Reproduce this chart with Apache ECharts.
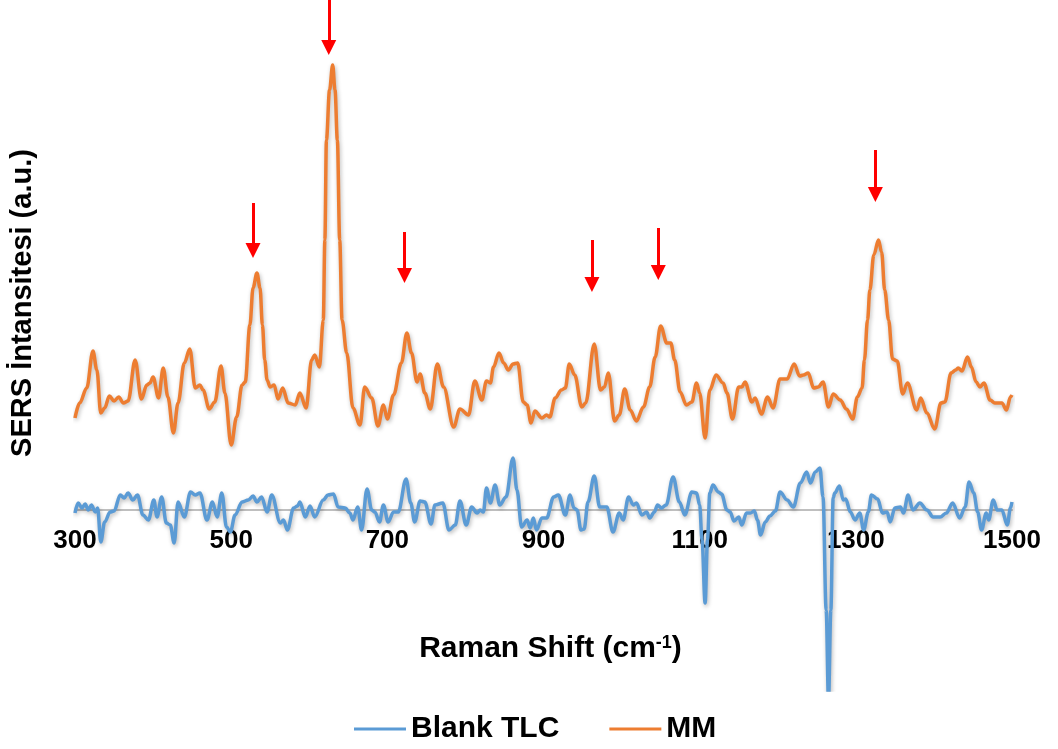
<!DOCTYPE html>
<html>
<head>
<meta charset="utf-8">
<title>SERS</title>
<script src="https://cdn.jsdelivr.net/npm/echarts@6/dist/echarts.min.js"></script>
<style>
    html, body { margin: 0; padding: 0; background: #fff; }
    #chart { width: 1058px; height: 749px; }
</style>
</head>
<body>
<div id="chart"></div>
<script>
var FONT = 'Arial, "Liberation Sans", sans-serif';

// x axis ticks
var xTicks = [300, 500, 700, 900, 1100, 1300, 1500];

// Blank TLC spectrum (Raman shift, intensity)
var blankShift = [300, 304, 309, 313, 317, 321, 326, 329, 333, 338, 345, 350, 358, 363, 368, 374, 380, 387, 394, 401,
    405, 411, 417, 422, 427, 432, 440, 448, 454, 460, 469, 476, 482, 488, 494, 499, 505, 514, 522, 528,
    533, 539, 546, 552, 563, 567, 572, 580, 585, 588, 595, 601, 607, 618, 624, 631, 637, 646, 652, 656,
    662, 667, 674, 680, 684, 690, 695, 701, 708, 714, 724, 730, 735, 742, 748, 756, 761, 771, 779, 787,
    793, 801, 808, 815, 819, 823, 827, 832, 838, 844, 852, 861, 866, 872, 879, 883, 887, 891, 898, 904,
    913, 919, 928, 934, 939, 943, 948, 952, 957, 965, 972, 981, 989, 997, 1002, 1009, 1015, 1019, 1026, 1032,
    1036, 1042, 1046, 1051, 1057, 1066, 1074, 1081, 1090, 1096, 1100, 1103, 1107, 1110, 1113, 1117, 1124, 1128, 1135, 1139,
    1144, 1150, 1154, 1160, 1165, 1170, 1174, 1178, 1184, 1190, 1197, 1203, 1212, 1220, 1229, 1237, 1242, 1248, 1254, 1258,
    1262, 1265, 1268, 1271, 1273, 1279, 1284, 1287, 1293, 1299, 1305, 1310, 1316, 1320, 1328, 1334, 1340, 1344, 1350, 1357,
    1361, 1367, 1373, 1382, 1391, 1399, 1408, 1416, 1424, 1433, 1440, 1445, 1451, 1456, 1461, 1467, 1470, 1476, 1481, 1487,
    1494, 1498, 1500];
var blankValue = [-3, 7, 2, 6, 0, 5, -2, 2, -32, -12, -2, -1, 15, 12, 17, 10, 15, -5, -10, 10,
    -7, 13, -13, -15, -33, 8, -7, 18, 15, 17, -10, 8, -7, 17, -17, -22, -5, 8, 10, 14,
    8, 13, -2, 15, -13, -10, -20, 2, 4, 8, -7, 4, -7, 10, 15, 16, 3, 2, -3, -10,
    3, -20, 21, 0, -2, -12, 5, -12, -2, -2, 31, 7, -12, 9, 8, -14, 5, 7, -20, -15,
    9, -15, 3, -3, 0, -2, 22, 7, 25, 5, 13, 52, 20, -17, -10, -18, -8, -20, -8, -8,
    13, 15, -5, 15, 2, 0, -20, -19, 8, 34, 3, 3, -22, -3, -10, 13, 5, 7, -5, -2,
    -8, -2, 5, 2, 5, 33, 8, -5, 18, 17, 5, -30, -93, -30, 17, 25, 18, 16, 0, -2,
    -11, -7, -15, -3, -3, -1, -10, -25, -12, -6, -1, 18, 10, 3, 27, 38, 27, 38, 42, 13,
    -100, -190, -100, 12, 17, 24, 10, 11, -2, -10, -3, -20, -2, 15, 11, -3, -2, -12, 2, 3,
    -3, 15, 0, 7, 0, -7, -7, -3, 7, -8, 3, 28, 17, -2, -20, -3, -10, 10, 0, 0,
    -15, 2, 8];

// MM spectrum (Raman shift, intensity)
var mmShift = [300, 306, 315, 323, 328, 333, 338, 344, 350, 356, 362, 368, 377, 385, 392, 396, 400, 407, 413, 419,
    426, 432, 440, 447, 454, 460, 464, 472, 479, 487, 492, 500, 507, 514, 518, 524, 528, 533, 537, 540,
    543, 546, 550, 555, 560, 566, 573, 582, 588, 596, 603, 607, 613, 618, 620, 622, 626, 630, 633, 636,
    639, 642, 648, 656, 665, 671, 680, 688, 695, 700, 708, 718, 725, 731, 738, 742, 748, 755, 764, 772,
    785, 793, 804, 812, 821, 827, 832, 836, 843, 849, 855, 861, 867, 874, 879, 884, 889, 898, 904, 908,
    915, 923, 928, 933, 940, 949, 954, 965, 973, 978, 983, 991, 997, 1004, 1011, 1019, 1028, 1036, 1043, 1050,
    1058, 1063, 1068, 1075, 1083, 1090, 1096, 1100, 1107, 1113, 1121, 1130, 1135, 1142, 1150, 1154, 1158, 1167, 1171, 1179,
    1187, 1194, 1203, 1212, 1221, 1228, 1233, 1239, 1246, 1252, 1258, 1265, 1271, 1280, 1288, 1296, 1302, 1308, 1311, 1315,
    1318, 1323, 1329, 1333, 1337, 1342, 1347, 1353, 1360, 1366, 1378, 1383, 1391, 1401, 1409, 1414, 1422, 1428, 1431, 1436,
    1443, 1448, 1454, 1459, 1464, 1472, 1478, 1487, 1493, 1498, 1500];
var mmValue = [92, 107, 122, 159, 140, 97, 102, 114, 109, 113, 107, 109, 150, 111, 125, 127, 133, 112, 142, 113,
    77, 107, 147, 161, 122, 125, 120, 101, 108, 144, 117, 65, 93, 125, 128, 185, 222, 237, 222, 185,
    150, 130, 123, 125, 111, 122, 107, 105, 117, 102, 150, 155, 143, 190, 270, 370, 420, 445, 420, 370,
    270, 190, 157, 102, 85, 123, 112, 84, 105, 91, 115, 147, 177, 157, 128, 136, 117, 101, 146, 123,
    83, 101, 95, 129, 110, 129, 127, 143, 157, 147, 140, 146, 147, 108, 105, 87, 99, 92, 95, 93,
    112, 120, 122, 146, 135, 103, 107, 166, 120, 123, 137, 89, 95, 121, 100, 89, 103, 123, 153, 184,
    167, 167, 150, 118, 105, 108, 127, 117, 72, 120, 135, 127, 117, 91, 123, 123, 128, 108, 112, 96,
    113, 102, 131, 131, 146, 134, 135, 137, 122, 123, 128, 103, 116, 110, 101, 91, 113, 122, 150, 190,
    220, 255, 270, 258, 220, 190, 151, 149, 116, 127, 100, 112, 97, 81, 107, 108, 137, 140, 142, 139,
    153, 143, 128, 123, 127, 110, 107, 107, 100, 113, 115];

// red arrows: position, top of shaft, tip
var arrowShift = [528, 625, 722, 962, 1047, 1325];
var arrowTop = [307, 510, 278, 270, 282, 360];
var arrowTip = [252, 455, 227, 218, 230, 308];

function zip(xs, ys) {
    var res = [];
    for (var i = 0; i < xs.length; i++) {
        res.push([xs[i], ys[i]]);
    }
    return res;
}

var arrowLines = [];
for (var i = 0; i < arrowShift.length; i++) {
    // triangle is centred on the end point, so stop half a head above the tip
    arrowLines.push([
        { coord: [arrowShift[i], arrowTop[i]] },
        { coord: [arrowShift[i], arrowTip[i] + 7.5] }
    ]);
}

var shadow = {
    shadowColor: 'rgba(0,0,0,0.28)',
    shadowBlur: 4,
    shadowOffsetX: 1,
    shadowOffsetY: 2
};

var myChart = echarts.init(document.getElementById('chart'));
var option = {
    animation: false,
    backgroundColor: '#ffffff',
    grid: {
        left: 75,
        right: 46,
        top: 0,
        bottom: 59,
        containLabel: false,
        outerBoundsMode: 'none'
    },
    legend: {
        left: 349,
        top: 709,
        itemWidth: 52,
        itemHeight: 3,
        itemGap: 50,
        icon: 'rect',
        textStyle: {
            fontFamily: FONT,
            fontSize: 30,
            fontWeight: 'bold',
            color: '#000'
        },
        data: ['Blank TLC', 'MM']
    },
    xAxis: {
        type: 'value',
        min: xTicks[0],
        max: xTicks[xTicks.length - 1],
        interval: 200,
        // the zero line sits 180 px above the bottom of the grid
        offset: -180,
        name: 'Raman Shift (cm{sup|-1})',
        nameLocation: 'middle',
        nameGap: 124,
        nameTextStyle: {
            fontFamily: FONT,
            fontSize: 30,
            fontWeight: 'bold',
            color: '#000',
            padding: [0, 0, 0, 14],
            rich: {
                sup: {
                    fontFamily: FONT,
                    fontSize: 18,
                    fontWeight: 'bold',
                    color: '#000',
                    verticalAlign: 'top'
                }
            }
        },
        axisLine: { onZero: false, lineStyle: { color: '#bfbfbf', width: 2 } },
        axisTick: { show: false },
        splitLine: { show: false },
        axisLabel: {
            margin: 18,
            fontFamily: FONT,
            fontSize: 26,
            fontWeight: 'bold',
            color: '#000',
            formatter: function (v) { return String(v); }
        }
    },
    yAxis: {
        type: 'value',
        min: -180,
        max: 510,
        axisLine: { show: false },
        axisTick: { show: false },
        axisLabel: { show: false },
        splitLine: { show: false }
    },
    graphic: [{
        type: 'text',
        x: 23,
        y: 303,
        rotation: Math.PI / 2,
        style: {
            text: 'SERS İntansitesi (a.u.)',
            fontFamily: FONT,
            fontSize: 29,
            fontWeight: 'bold',
            fill: '#000',
            align: 'center',
            verticalAlign: 'middle'
        }
    }],
    series: [
        {
            name: 'Blank TLC',
            type: 'line',
            symbol: 'none',
            smooth: 0.35,
            smoothMonotone: 'x',
            color: '#5B9BD5',
            lineStyle: Object.assign({ width: 3.5, color: '#5B9BD5' }, shadow),
            data: zip(blankShift, blankValue),
            z: 3
        },
        {
            name: 'MM',
            type: 'line',
            symbol: 'none',
            smooth: 0.35,
            smoothMonotone: 'x',
            color: '#ED7D31',
            lineStyle: Object.assign({ width: 3.5, color: '#ED7D31' }, shadow),
            data: zip(mmShift, mmValue),
            z: 2,
            markLine: {
                silent: true,
                animation: false,
                symbol: ['none', 'triangle'],
                symbolSize: 15,
                label: { show: false },
                emphasis: { disabled: true },
                lineStyle: { color: '#FF0000', width: 3, type: 'solid', opacity: 1 },
                data: arrowLines
            }
        }
    ]
};
myChart.setOption(option);
</script>
</body>
</html>
